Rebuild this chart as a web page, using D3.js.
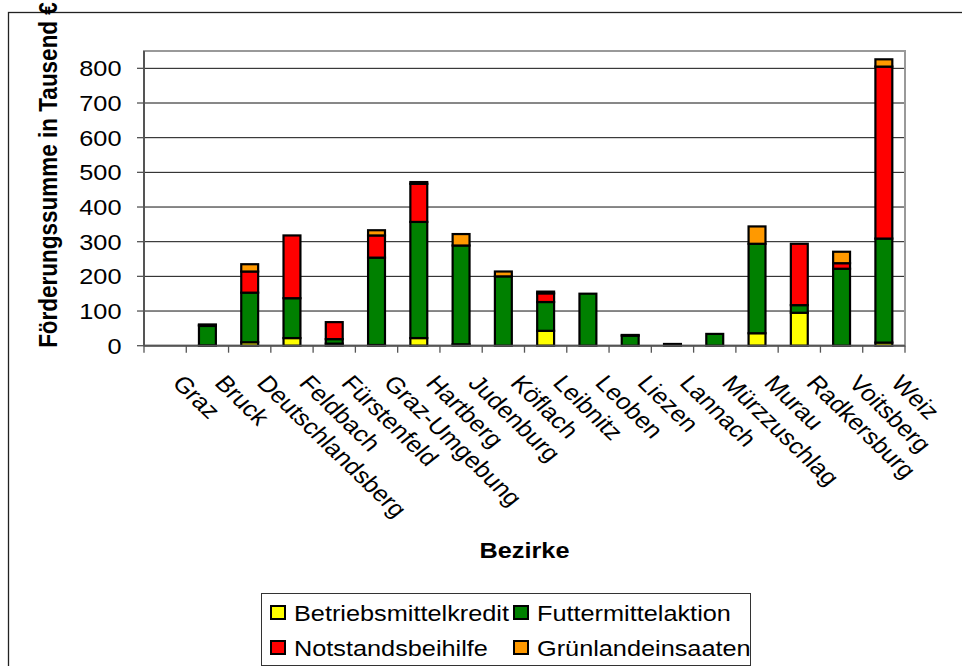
<!DOCTYPE html>
<html>
<head>
<meta charset="utf-8">
<script src="https://cdn.jsdelivr.net/npm/d3@7/dist/d3.min.js"></script>
<style>
  body { margin: 0; background: #fff; }
  svg { display: block; font-family: "Liberation Sans", Arial, sans-serif; }
</style>
</head>
<body>
<svg id="chart" width="962" height="666"></svg>
<script>
// Bezirke (x categories)
const bezirke = ['Graz', 'Bruck', 'Deutschlandsberg', 'Feldbach', 'Fürstenfeld', 'Graz-Umgebung',
  'Hartberg', 'Judenburg', 'Köflach', 'Leibnitz', 'Leoben', 'Liezen', 'Lannach',
  'Mürzzuschlag', 'Murau', 'Radkersburg', 'Voitsberg', 'Weiz'];

// series values in Tausend €
const betriebsmittelkredit = [0, 1, 10, 22, 6, 2, 22, 4, 0, 43, 0, 0, 0, 0, 36, 95, 0, 9];
const futtermittelaktion   = [0, 56, 143, 115, 13, 252, 335, 285, 200, 83, 150, 29, 5, 34, 258, 22, 222, 300];
const notstandsbeihilfe    = [0, 3, 61, 181, 49, 64, 110, 0, 0, 25, 0, 2, 0, 0, 0, 177, 16, 496];
const gruenlandeinsaaten   = [0, 1, 21, 0, 0, 15, 5, 33, 14, 5, 0, 0, 0, 0, 50, 0, 33, 21];

const seriesNames = ['Betriebsmittelkredit', 'Futtermittelaktion', 'Notstandsbeihilfe', 'Grünlandeinsaaten'];
const seriesColors = ['#ffff00', '#008000', '#ff0000', '#ff9900'];
const yTicks = [0, 100, 200, 300, 400, 500, 600, 700, 800];

const SX = 1.15; // text in the original is a little wider than tall
const plot = { left: 144, right: 905, top: 51, bottom: 345.7 };

const table = bezirke.map((b, i) => ({
  bezirk: b,
  Betriebsmittelkredit: betriebsmittelkredit[i],
  Futtermittelaktion: futtermittelaktion[i],
  Notstandsbeihilfe: notstandsbeihilfe[i],
  'Grünlandeinsaaten': gruenlandeinsaaten[i]
}));

const $svg = d3.select('#chart');

// outer chart frame
$svg.append('rect')
  .attr('x', 8.5).attr('y', 12.5)
  .attr('width', 1000).attr('height', 1000)
  .attr('fill', '#fff').attr('stroke', '#222').attr('stroke-width', 1.3);

const x = d3.scaleBand().domain(bezirke).range([plot.left, plot.right]).padding(0);
const y = d3.scaleLinear().domain([0, 850]).range([plot.bottom, plot.top]);

// gridlines
$svg.append('g')
  .selectAll('line')
  .data(yTicks.filter(d => d > 0))
  .enter().append('line')
  .attr('x1', plot.left).attr('x2', plot.right)
  .attr('y1', d => y(d)).attr('y2', d => y(d))
  .attr('stroke', '#111').attr('stroke-width', 1);

// plot area border (gray)
$svg.append('rect')
  .attr('x', plot.left).attr('y', plot.top)
  .attr('width', plot.right - plot.left).attr('height', plot.bottom - plot.top)
  .attr('fill', 'none').attr('stroke', '#999').attr('stroke-width', 2);

// stacked bars
const stack = d3.stack().keys(seriesNames);
const layers = stack(table);
const barW = x.bandwidth() * 0.4;

$svg.append('g')
  .selectAll('g')
  .data(layers)
  .enter().append('g')
  .attr('fill', (d, i) => seriesColors[i])
  .selectAll('rect')
  .data(d => d.filter(s => s[1] - s[0] > 0))
  .enter().append('rect')
  .attr('x', d => x(d.data.bezirk) + (x.bandwidth() - barW) / 2)
  .attr('y', d => y(d[1]))
  .attr('width', barW)
  .attr('height', d => y(d[0]) - y(d[1]))
  .attr('stroke', '#000').attr('stroke-width', 2.2);

// y axis
const yAxis = $svg.append('g').attr('transform', `translate(${plot.left},0)`);
yAxis.append('line')
  .attr('x1', 0).attr('x2', 0).attr('y1', plot.top).attr('y2', plot.bottom)
  .attr('stroke', '#555').attr('stroke-width', 2);
yAxis.selectAll('.tick')
  .data(yTicks)
  .enter().append('line')
  .attr('x1', -7).attr('x2', 0)
  .attr('y1', d => y(d)).attr('y2', d => y(d))
  .attr('stroke', '#555').attr('stroke-width', 1.3);
yAxis.selectAll('text')
  .data(yTicks)
  .enter().append('text')
  .attr('transform', d => `translate(-22.5,${y(d) + 8}) scale(${SX},1)`)
  .attr('text-anchor', 'end')
  .attr('font-size', 22)
  .text(d => d);

// x axis
const xAxis = $svg.append('g');
xAxis.append('line')
  .attr('x1', plot.left).attr('x2', plot.right)
  .attr('y1', plot.bottom).attr('y2', plot.bottom)
  .attr('stroke', '#555').attr('stroke-width', 2);
xAxis.selectAll('.tick')
  .data(bezirke.concat(['end']))
  .enter().append('line')
  .attr('x1', (d, i) => plot.left + i * x.step())
  .attr('x2', (d, i) => plot.left + i * x.step())
  .attr('y1', plot.bottom).attr('y2', plot.bottom + 7)
  .attr('stroke', '#555').attr('stroke-width', 1.3);
xAxis.selectAll('text')
  .data(bezirke)
  .enter().append('text')
  .attr('transform', d => `translate(${x(d) + x.bandwidth() / 2 + 6},384) scale(${SX},1) rotate(48)`)
  .attr('font-size', 22.5)
  .text(d => d);

// axis titles
$svg.append('text')
  .attr('transform', `translate(${(plot.left + plot.right) / 2},558) scale(${SX},1)`)
  .attr('text-anchor', 'middle')
  .attr('font-size', 22).attr('font-weight', 'bold')
  .text('Bezirke');

$svg.append('text')
  .attr('transform', `translate(57,175) scale(${SX},1) rotate(-90)`)
  .attr('text-anchor', 'middle')
  .attr('font-size', 22.5).attr('font-weight', 'bold')
  .text('Förderungssumme in Tausend €');

// legend
const legend = $svg.append('g');
legend.append('rect')
  .attr('x', 261.5).attr('y', 593.5)
  .attr('width', 489).attr('height', 72)
  .attr('fill', '#fff').attr('stroke', '#333').attr('stroke-width', 1);

const legPos = [[270, 605], [513, 605], [270, 640], [513, 640]];
const item = legend.selectAll('.item')
  .data(seriesNames)
  .enter().append('g')
  .attr('transform', (d, i) => `translate(${legPos[i][0]},${legPos[i][1]})`);
item.append('rect')
  .attr('x', 1).attr('y', 1).attr('width', 14).attr('height', 13)
  .attr('fill', (d, i) => seriesColors[i])
  .attr('stroke', '#000').attr('stroke-width', 2);
item.append('text')
  .attr('transform', `translate(24,15.5) scale(${SX},1)`)
  .attr('font-size', 22)
  .text(d => d);
</script>
</body>
</html>
